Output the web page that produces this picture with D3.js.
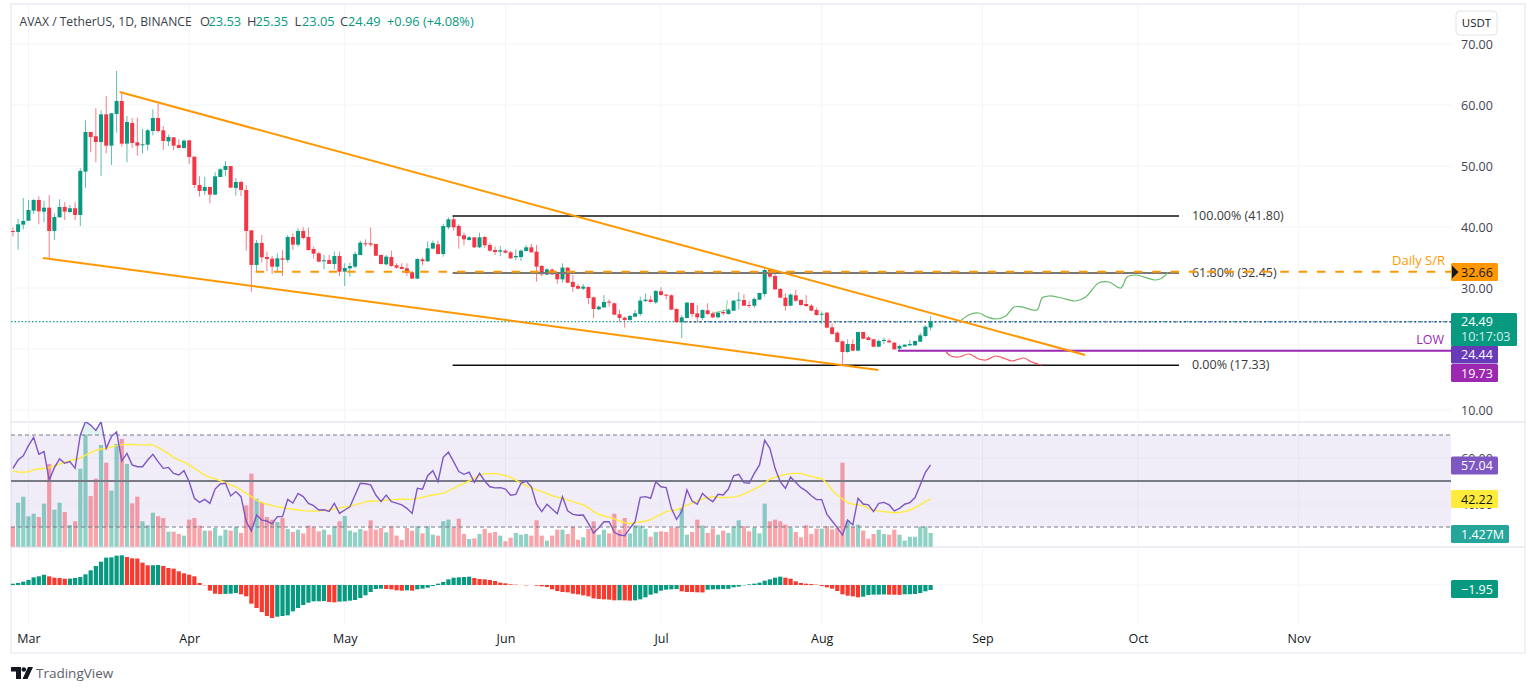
<!DOCTYPE html>
<html>
<head>
<title>AVAX / TetherUS, 1D, BINANCE</title>
<script src="https://d3js.org/d3.v7.min.js"></script>
<style>
    body { margin: 0; background: #fff; }
    text { font-family: "Open Sans", sans-serif; }
</style>
</head>
<body>
<div id="chart"></div>
<script>
// daily candles, 27 Feb to 22 Aug, index 0 = first candle
const opens = [39.35,39.19,40.39,41.04,42.68,44.43,42.52,43.17,39.35,41.59,
43.28,42.46,43.07,41.97,49.08,55.58,54.87,53.94,58.47,53.34,
58.53,60.66,53.67,57.05,53.88,53.45,53.50,55.74,57.87,55.85,
54.05,54.70,53.45,52.96,54.21,51.53,46.89,45.91,46.56,45.31,
48.20,49.35,50.00,46.40,47.38,46.07,39.46,33.78,37.38,35.09,
34.81,33.50,34.87,34.60,38.36,37.11,39.35,38.36,36.40,35.69,
34.43,34.60,33.94,35.25,32.68,33.23,33.50,35.41,37.33,37.33,
37.22,35.41,33.88,35.09,33.72,33.45,33.23,32.57,31.54,34.70,
34.38,36.45,37.16,35.58,39.95,41.26,40.17,38.64,37.87,38.31,
36.67,38.36,37.05,36.23,35.96,36.12,35.85,35.03,35.08,36.07,
36.67,35.96,33.61,32.19,33.01,32.30,31.42,33.34,30.99,30.33,
29.89,30.17,28.47,26.51,26.83,27.76,27.49,25.69,25.14,24.76,
25.30,25.74,27.87,28.09,27.65,29.46,28.91,28.80,26.56,24.38,
25.09,27.54,25.85,25.08,26.34,25.85,25.19,26.07,25.74,26.28,
27.92,28.03,27.21,27.10,28.09,29.02,32.95,31.97,29.84,28.42,
27.10,28.80,28.03,27.38,27.10,26.39,25.68,25.96,23.55,22.68,
21.26,19.51,20.82,19.73,22.79,21.91,21.59,20.38,21.31,21.37,
21.04,20.06,20.38,20.60,20.60,21.20,22.13,23.53];
const highs = [39.95,41.37,44.76,44.43,44.60,45.03,44.32,45.25,42.24,44.54,
44.05,43.61,44.05,49.62,57.49,55.58,59.46,59.13,61.48,58.64,
65.58,62.08,58.20,57.87,57.93,56.07,56.07,59.29,60.17,56.56,
55.14,54.70,54.38,54.38,54.21,51.53,48.31,48.20,46.56,48.97,
49.62,50.82,50.00,48.04,47.60,46.89,39.46,37.87,38.69,35.96,
35.25,35.69,36.23,38.69,38.97,39.79,39.95,39.90,36.78,35.96,
35.41,35.41,35.96,35.96,34.05,34.16,35.96,37.77,37.98,39.90,
37.22,35.52,35.41,36.12,34.05,34.05,34.05,32.79,34.87,35.03,
37.65,37.77,37.77,40.50,41.59,41.81,40.50,39.08,38.53,38.31,
39.08,38.53,37.43,36.78,36.89,36.34,36.12,36.34,36.34,37.05,
37.22,37.05,33.77,33.23,33.23,32.57,34.05,33.39,32.13,30.66,
30.66,30.22,28.58,27.16,28.86,28.14,27.60,26.40,25.30,25.58,
26.40,28.58,29.13,28.75,29.67,30.11,29.02,28.96,26.67,25.58,
27.71,27.60,27.21,26.50,27.49,26.12,26.12,26.39,26.67,28.03,
29.29,29.02,27.92,28.47,29.24,33.17,33.12,32.68,30.00,29.13,
29.13,29.67,28.14,28.85,27.38,26.78,26.12,26.07,24.21,22.90,
21.37,21.59,21.59,22.79,22.79,22.13,21.70,21.59,21.91,21.70,
21.15,20.71,20.77,21.48,21.37,22.68,23.88,25.35];
const lows = [38.42,36.29,39.62,41.04,42.14,40.44,40.77,34.87,37.87,41.59,
41.15,42.25,41.15,40.17,46.40,52.25,50.60,48.37,52.08,50.17,
55.47,53.17,50.60,52.96,51.70,52.08,52.52,55.03,55.47,52.63,
53.28,52.63,52.96,52.85,50.33,46.40,44.98,45.25,43.88,45.20,
48.20,48.31,46.40,45.14,45.09,36.13,29.35,32.57,34.16,32.79,
32.30,32.79,31.97,34.16,36.23,36.78,37.98,36.12,34.81,34.21,
33.06,33.94,33.06,31.97,30.33,31.86,33.23,35.36,36.78,36.78,
35.25,33.83,33.72,33.50,33.17,33.06,31.97,31.54,31.43,33.72,
34.27,36.34,35.52,35.14,39.62,39.40,36.45,37.00,37.77,36.56,
36.56,36.56,35.96,35.41,35.25,35.69,34.76,34.59,34.43,35.96,
35.79,31.04,31.97,32.08,32.13,30.66,30.88,30.77,29.35,29.78,
29.67,27.38,25.03,26.40,26.72,26.94,25.52,24.38,23.50,24.65,
25.19,25.41,27.71,27.60,27.38,28.75,28.14,26.40,24.32,21.81,
24.98,25.19,24.48,24.76,25.63,25.03,25.03,25.57,25.63,26.23,
26.50,27.05,26.72,26.78,28.03,28.58,31.64,29.67,28.31,26.28,
26.99,27.70,27.10,26.94,26.18,25.47,24.10,23.39,22.35,21.04,
17.33,19.40,19.62,19.62,21.59,21.37,20.27,20.27,20.82,20.93,
19.84,19.84,20.33,20.49,20.49,21.15,22.02,23.05];
const closes = [39.19,40.44,40.99,42.79,44.43,42.57,43.17,39.35,41.64,43.28,
42.52,43.07,41.97,49.19,55.58,54.76,53.94,58.47,53.34,58.64,
60.66,53.67,57.22,53.77,53.34,53.56,55.85,57.87,55.74,54.10,
54.76,53.34,52.96,54.16,51.48,46.89,45.91,46.56,45.31,48.31,
49.46,50.00,46.45,47.38,46.07,39.35,33.78,37.38,35.03,34.76,
33.50,34.87,34.65,38.36,37.11,39.35,38.20,36.23,35.63,34.32,
34.54,33.94,35.25,32.68,33.28,33.61,35.58,37.44,37.22,37.11,
35.30,33.94,35.14,33.61,33.34,33.12,32.46,31.54,34.76,34.38,
36.51,37.38,35.58,40.17,41.26,39.95,38.53,37.98,38.31,36.67,
38.31,37.00,36.12,35.90,36.18,35.79,34.87,35.25,36.12,36.67,
35.85,33.50,32.24,33.06,32.24,31.42,33.34,30.88,30.17,29.89,
30.22,28.36,26.56,26.94,27.71,27.60,25.63,25.09,24.76,25.41,
25.85,27.93,28.09,27.71,29.51,28.86,28.75,26.45,24.38,25.19,
27.60,25.74,25.19,26.39,25.74,25.19,25.96,25.85,26.45,27.92,
28.09,27.10,27.10,28.20,29.18,32.95,31.86,29.78,28.42,27.05,
28.91,27.92,27.21,27.05,26.28,25.57,25.79,23.50,22.46,21.15,
19.51,20.82,19.73,22.79,21.69,21.48,20.38,21.31,21.48,21.09,
19.95,20.49,20.71,20.82,21.31,22.24,23.66,24.49];
// volume in millions
const volumes = [2.04,4.52,5.13,3.13,3.40,3.06,4.42,8.47,3.81,4.52,
3.57,2.24,2.62,7.99,11.46,5.20,6.97,10.40,8.60,5.75,
10.51,11.02,8.47,4.45,5.13,2.62,2.21,3.50,3.13,2.96,
1.56,1.56,1.33,1.16,2.79,2.96,2.18,1.67,1.67,1.94,
1.16,1.77,1.67,2.04,1.43,4.25,7.48,4.93,4.56,3.06,
2.79,2.55,2.96,1.84,1.53,1.77,1.39,2.18,2.01,1.60,
1.77,1.26,2.11,2.62,3.16,1.67,1.50,1.84,1.67,2.72,
1.77,1.94,1.50,2.11,1.16,0.71,1.94,1.67,2.11,1.39,
2.11,1.26,1.16,2.62,2.79,2.01,2.89,1.33,0.82,0.88,
1.33,1.84,1.43,1.53,1.16,0.58,0.95,1.43,1.26,1.33,
1.16,2.72,1.16,0.65,1.16,1.77,1.77,1.33,2.07,0.75,
0.99,1.84,2.62,1.26,1.77,1.39,3.40,1.77,2.96,1.39,
2.21,2.18,1.87,1.05,1.53,1.60,1.53,1.94,2.04,3.98,
1.26,1.53,2.79,2.18,1.43,1.90,1.26,1.67,1.43,2.07,
2.72,2.11,1.60,2.01,1.39,4.42,2.62,2.79,2.62,2.28,
2.01,1.53,0.99,2.21,1.33,1.87,1.87,2.11,1.80,1.94,
8.60,2.69,2.04,2.28,1.67,0.85,1.33,1.77,1.33,1.26,
1.77,1.26,0.65,1.05,1.05,2.07,2.07,1.427];
const rsi = [55.5,59.1,61.0,65.4,69.0,61.6,62.8,50.4,55.8,59.6,
57.7,58.4,55.5,70.0,75.8,74.3,72.0,75.8,64.2,69.3,
71.4,58.7,62.0,57.0,56.2,56.2,59.1,61.6,58.4,55.5,
55.9,53.3,52.6,54.5,49.7,42.5,40.7,42.0,40.3,46.5,
48.7,49.0,43.5,45.4,43.2,32.3,28.3,35.2,33.0,32.6,
31.4,34.5,34.5,42.0,40.4,44.6,43.2,40.3,39.3,37.4,
37.5,36.8,40.3,35.9,37.4,38.8,43.9,49.0,48.8,48.3,
43.9,41.0,43.9,41.0,40.4,39.6,38.1,35.9,46.8,46.4,
52.3,54.5,49.7,60.3,62.5,58.4,54.1,52.9,53.8,49.4,
53.3,50.0,47.5,47.0,47.1,46.5,43.8,44.2,49.0,50.0,
47.5,39.9,36.7,39.9,37.8,35.8,43.2,37.0,35.5,35.1,
35.2,31.6,27.4,29.7,32.3,32.3,27.7,26.5,26.2,29.4,
32.3,42.9,43.2,42.5,49.7,47.5,47.1,38.1,33.3,36.7,
46.1,41.3,39.9,44.6,42.5,41.0,44.2,43.9,46.5,52.3,
52.9,49.3,49.0,53.3,57.0,67.7,64.2,55.5,49.7,46.8,
51.7,49.3,47.1,45.7,43.6,41.9,41.9,35.5,32.6,29.7,
26.5,33.0,30.9,42.5,40.0,39.6,36.7,40.3,40.7,39.6,
37.0,38.1,39.9,40.6,42.8,48.3,53.8,57.04];
const rsiMa = [54.3,53.9,53.8,54.1,54.9,55.2,55.5,55.8,56.5,57.4,58.1,58.8,59.4,59.9,
61.2,62.3,63.3,63.9,64.2,64.8,65.4,65.8,65.9,65.9,65.7,65.7,65.7,65.7,
64.6,63.2,61.9,60.3,59.1,58.3,57,55.5,54.1,52.6,51.6,50.9,50.1,49.3,48.3,47.4,46.1,44.6,43.2,41.7,
40.6,39.9,39.3,38.8,38.4,38,37.7,37.4,37.1,37,36.8,37,37.2,37.4,37.8,38.3,38.7,39,39.6,40.3,41,41.2,
41.3,41.4,41.7,41.9,42,42.2,42,42,42.5,42.9,43.5,43.9,44.3,44.6,45.7,46.8,48,49,50,51.2,52.3,53.2,53.2,53.3,52.9,
52.3,51.7,50.4,49,48,47.1,46.1,45.4,44.5,43.6,43,42.5,41.7,41,40.4,39.6,38.4,36.7,35.5,34.8,
34.2,33.5,32.6,31.9,31.4,31.9,32.2,32.6,33.2,34.5,35.5,36.7,37.1,37.4,38.4,39.6,40.3,41.3,42.2,42.8,
43.2,42.9,42.8,42.8,43,43.5,44.3,45.4,46.5,47.5,49,50.9,51.6,52.3,52.9,53.2,53.3,53.3,52.6,52,
51.4,51,49,46.1,43.9,42.2,40.7,39.9,39.6,39.3,38.1,37.4,37,36.7,36.4,36.2,36.4,36.7,37.4,38.4,39.6,41,42.22];
const histogram = [.5,.8,1.3,2.0,3.0,3.4,4.0,3.39,2.86,2.73,2.45,
2.5,2.73,3.13,4.17,5.73,7.42,9.11,10.68,10.81,11.46,11.59,
10.94,10.42,10.35,8.72,7.7,7.72,7.8,7.42,6.64,6.38,
5.34,4.56,4.04,3.39,.78,-.1,-2.2,-3.39,-3.52,-3.5,
-3.39,-3.13,-3.65,-4.43,-7.29,-8.98,-10.55,-12.11,-12.89,
-12.37,-12.11,-11.85,-10.29,-8.98,-7.81,-6.9,-6.38,-6.36,-6.25,
-6.64,-6.77,-6.51,-6.38,-6.12,-5.86,-5.08,-4.04,-2.73,-1.56,
-1.43,-1.56,-1.69,-2.08,-2.21,-2.08,-2.21,-1.69,-1.43,-1.04,
-.39,.52,1.17,2.21,2.86,3.0,3.13,3.26,2.73,2.34,
2.21,1.95,1.56,.91,.65,.26,.13,.02,-.13,0,
-.26,-.52,-.78,-1.69,-2.34,-2.73,-2.86,-3.39,-3.65,-4.04,
-4.43,-5.21,-5.47,-5.6,-5.73,-5.99,-5.95,-6.0,-6.1,-5.99,
-5.6,-4.82,-3.78,-3.26,-2.21,-1.82,-1.69,-1.6,-2.47,-2.73,
-2.75,-2.86,-2.9,-1.82,-1.69,-1.66,-1.56,-1.5,-.91,-.65,
-.13,.26,.52,.91,1.69,2.21,2.86,3.26,2.86,2.47,
1.43,.78,.52,.39,.13,-.39,-.91,-1.43,-2.34,-3.65,
-4.17,-4.43,-4.82,-4.56,-3.91,-3.78,-3.75,-3.7,-3.78,-3.8,
-3.85,-3.65,-3.6,-3.52,-3.13,-2.47,-1.95];

const priceTicks = [70, 60, 50, 40, 30, 20, 10];
const rsiTicks = [60, 40];
const monthDays = [3, 34, 64, 95, 125, 156, 187, 217, 248];
const monthLabels = ["Mar", "Apr", "May", "Jun", "Jul", "Aug", "Sep", "Oct", "Nov"];

// drawn lines: day index and price at each end
const wedgeTopDays = [20.6, 206.8], wedgeTopPrices = [62.13, 19.02];
const wedgeLowDays = [5.8, 166.9], wedgeLowPrices = [34.92, 16.56];
const fibLevels = [41.80, 32.45, 17.33];
const fibLabels = ["100.00% (41.80)", "61.80% (32.45)", "0.00% (17.33)"];
const fibDays = [84.8, 224.9];
const supportPrice = 32.66, supportStartDay = 46.8;
const lowPrice = 19.73, lowStartDay = 170.7;
const lastClose = 24.49, prevLine = 24.44, prevLineStartDay = 129.5;

const upPathDays = [182.9,184.8,186.3,187.9,189.6,191.5,193.1,194.6,197.5,198.5,199.8,202.3,205.0,206.9,209.4,211.4,213.7,214.9,216.6,220.4,221.6,222.8];
const upPathPrices = [24.75,25.74,25.90,25.25,24.92,25.41,26.89,26.89,26.39,28.36,28.69,28.36,27.87,28.52,30.82,30.98,30.0,31.80,32.13,31.31,31.64,32.62];
const downPathDays = [180.0,180.9,182.5,184.4,186.3,187.7,189.6,191.5,192.7,195,196.5,198.5];
const downPathPrices = [19.51,18.85,18.69,19.18,18.36,18.2,18.85,18.36,18.03,18.52,17.87,17.38];
const strayDays = [135.1,136.6,137.6,137.8], strayPrices = [25.9,26.2,26.4,28.0];

const width = 1536, height = 691;
const paneLeft = 11, paneRight = 1451, frameRight = 1525, frameTop = 4, frameBottom = 653;
const priceBottom = 422, rsiBottom = 547, timeTop = 624;
const days = d3.range(opens.length);

const green = "#089981", red = "#f23645", orange = "#ff9800", gridColor = "#f3f4f8", textColor = "#3f4350";

const x = d3.scaleLinear().domain([0, 177]).range([12.9, 930.6]);
const yPrice = d3.scaleLinear().domain([0, 70]).range([471, 44]);
const yRsi = d3.scaleLinear().domain([30, 70]).range([527, 435]);
const yVol = d3.scaleLinear().domain([0, 10.2]).range([547, 447]);
const yHist = d3.scaleLinear().domain([-20, 20]).range([636.2, 533.8]);

const svg = d3.select("#chart").append("svg")
    .attr("width", width).attr("height", height)
    .style("display", "block");

// frame and pane dividers
svg.append("rect").attr("x", paneLeft).attr("y", frameTop)
    .attr("width", frameRight - paneLeft).attr("height", frameBottom - frameTop)
    .attr("fill", "#fff").attr("stroke", "#eff1f7").attr("stroke-width", 2);
[priceBottom, rsiBottom].forEach(function(y) {
    svg.append("line").attr("x1", paneLeft).attr("x2", frameRight).attr("y1", y).attr("y2", y)
        .attr("stroke", "#e6e8ef").attr("stroke-width", 1.5);
});

// grid
svg.append("g").selectAll("line").data(monthDays).join("line")
    .attr("x1", d => x(d)).attr("x2", d => x(d))
    .attr("y1", frameTop + 1).attr("y2", timeTop)
    .attr("stroke", gridColor);
svg.append("g").selectAll("line").data(priceTicks).join("line")
    .attr("x1", paneLeft).attr("x2", paneRight)
    .attr("y1", d => yPrice(d)).attr("y2", d => yPrice(d))
    .attr("stroke", gridColor);

// rsi band goes under everything in its pane
svg.append("rect").attr("x", paneLeft).attr("width", paneRight - paneLeft)
    .attr("y", yRsi(70)).attr("height", yRsi(30) - yRsi(70))
    .attr("fill", "#7e57c2").attr("fill-opacity", 0.11);
svg.append("g").selectAll("line").data(rsiTicks).join("line")
    .attr("x1", paneLeft).attr("x2", paneRight)
    .attr("y1", d => yRsi(d)).attr("y2", d => yRsi(d))
    .attr("stroke", "#e9e6f3");
svg.append("line").attr("x1", paneLeft).attr("x2", paneRight)
    .attr("y1", yHist(0)).attr("y2", yHist(0)).attr("stroke", gridColor);

// volume
svg.append("g").selectAll("rect").data(days).join("rect")
    .attr("x", d => x(d) - 2.1).attr("width", 4.2)
    .attr("y", d => yVol(volumes[d]))
    .attr("height", d => yVol(0) - yVol(volumes[d]))
    .attr("fill", d => closes[d] >= opens[d] ? green : red)
    .attr("fill-opacity", 0.45);
svg.append("line").attr("x1", paneLeft).attr("x2", x(177) + 3)
    .attr("y1", rsiBottom).attr("y2", rsiBottom).attr("stroke", "#dfe2ec");

// rsi levels
[70, 30].forEach(function(level) {
    svg.append("line").attr("x1", paneLeft).attr("x2", paneRight)
        .attr("y1", yRsi(level)).attr("y2", yRsi(level))
        .attr("stroke", "#787b86").attr("stroke-dasharray", "4 3");
});
svg.append("line").attr("x1", paneLeft).attr("x2", paneRight)
    .attr("y1", yRsi(50)).attr("y2", yRsi(50))
    .attr("stroke", "#787b86").attr("stroke-width", 1.8);

// rsi and its average, clipped to the pane
svg.append("clipPath").attr("id", "rsiClip").append("rect")
    .attr("x", paneLeft).attr("y", priceBottom)
    .attr("width", paneRight - paneLeft).attr("height", rsiBottom - priceBottom);
svg.append("clipPath").attr("id", "overClip").append("rect")
    .attr("x", paneLeft).attr("y", priceBottom)
    .attr("width", paneRight - paneLeft).attr("height", yRsi(70) - priceBottom);
svg.append("path").datum(days)
    .attr("clip-path", "url(#overClip)")
    .attr("fill", green).attr("fill-opacity", 0.12)
    .attr("d", d3.area().x(d => x(d)).y0(yRsi(70)).y1(d => yRsi(rsi[d])));
svg.append("path").datum(days)
    .attr("clip-path", "url(#rsiClip)")
    .attr("fill", "none").attr("stroke", "#ffeb3b").attr("stroke-width", 1.4)
    .attr("d", d3.line().x(d => x(d)).y(d => yRsi(rsiMa[d])));
svg.append("path").datum(days)
    .attr("clip-path", "url(#rsiClip)")
    .attr("fill", "none").attr("stroke", "#7e57c2").attr("stroke-width", 1.4)
    .attr("d", d3.line().x(d => x(d)).y(d => yRsi(rsi[d])));

// histogram, coloured by the change from the day before
svg.append("g").selectAll("rect").data(days).join("rect")
    .attr("x", d => x(d) - 2.1).attr("width", 4.2)
    .attr("y", d => Math.min(yHist(0), yHist(histogram[d])))
    .attr("height", d => Math.abs(yHist(histogram[d]) - yHist(0)))
    .attr("fill", d => d === 0 || histogram[d] >= histogram[d - 1] ? green : "#f7392e");

// last price lines
svg.append("line").attr("x1", paneLeft).attr("x2", paneRight)
    .attr("y1", yPrice(lastClose)).attr("y2", yPrice(lastClose))
    .attr("stroke", "#1fa08c").attr("stroke-width", 1.2).attr("stroke-dasharray", "1.5 2");
svg.append("line").attr("x1", x(prevLineStartDay)).attr("x2", paneRight)
    .attr("y1", yPrice(prevLine)).attr("y2", yPrice(prevLine))
    .attr("stroke", "#30308f").attr("stroke-width", 1.2).attr("stroke-dasharray", "2 3");

// candles
const candleColor = d => closes[d] >= opens[d] ? green : red;
svg.append("g").selectAll("line").data(days).join("line")
    .attr("x1", d => x(d)).attr("x2", d => x(d))
    .attr("y1", d => yPrice(highs[d])).attr("y2", d => yPrice(lows[d]))
    .attr("stroke", candleColor).attr("stroke-opacity", 0.65);
svg.append("g").selectAll("rect").data(days).join("rect")
    .attr("x", d => x(d) - 2).attr("width", 4)
    .attr("y", d => yPrice(Math.max(opens[d], closes[d])))
    .attr("height", d => Math.max(1, Math.abs(yPrice(opens[d]) - yPrice(closes[d]))))
    .attr("fill", candleColor);

// fib levels
const fibs = svg.append("g");
fibLevels.forEach(function(level, i) {
    fibs.append("line").attr("x1", x(fibDays[0])).attr("x2", x(fibDays[1]))
        .attr("y1", yPrice(level)).attr("y2", yPrice(level))
        .attr("stroke", i === 1 ? "#787878" : "#111")
        .attr("stroke-width", i === 1 ? 2 : 1.5);
    fibs.append("text").attr("x", x(fibDays[1]) + 13).attr("y", yPrice(level) + 4)
        .attr("font-size", 12.5).attr("fill", "#3a3a3a").text(fibLabels[i]);
});

// support and low lines
svg.append("line").attr("x1", x(supportStartDay)).attr("x2", paneRight)
    .attr("y1", yPrice(supportPrice)).attr("y2", yPrice(supportPrice))
    .attr("stroke", orange).attr("stroke-width", 2).attr("stroke-dasharray", "8.5 9.8");
svg.append("line").attr("x1", x(lowStartDay)).attr("x2", paneRight)
    .attr("y1", yPrice(lowPrice)).attr("y2", yPrice(lowPrice))
    .attr("stroke", "#9c27b0").attr("stroke-width", 2);

// wedge
const priceLine = d3.line().x(d => x(d[0])).y(d => yPrice(d[1]));
svg.append("path").attr("d", priceLine(d3.zip(wedgeTopDays, wedgeTopPrices)))
    .attr("fill", "none").attr("stroke", orange).attr("stroke-width", 2);
svg.append("path").attr("d", priceLine(d3.zip(wedgeLowDays, wedgeLowPrices)))
    .attr("fill", "none").attr("stroke", orange).attr("stroke-width", 2);

// hand drawn forecast paths
const curvePath = d3.line().x(d => x(d[0])).y(d => yPrice(d[1])).curve(d3.curveCatmullRom);
svg.append("path").attr("d", curvePath(d3.zip(upPathDays, upPathPrices)))
    .attr("fill", "none").attr("stroke", "#66bb6a").attr("stroke-width", 1.2);
svg.append("path").attr("d", curvePath(d3.zip(downPathDays, downPathPrices)))
    .attr("fill", "none").attr("stroke", "#f7525f").attr("stroke-width", 1.2);
svg.append("path").attr("d", priceLine(d3.zip(strayDays, strayPrices)))
    .attr("fill", "none").attr("stroke", "#66bb6a").attr("stroke-opacity", 0.7);

svg.append("text").attr("x", 1445).attr("y", 265).attr("text-anchor", "end")
    .attr("font-size", 13).attr("fill", orange).text("Daily S/R");
svg.append("text").attr("x", 1444).attr("y", 344).attr("text-anchor", "end")
    .attr("font-size", 12.5).attr("fill", "#9c27b0").text("LOW");

// axes
const axisStyle = function(g) {
    g.select(".domain").remove();
    g.selectAll(".tick line").remove();
    g.selectAll("text").attr("font-size", 12.5).attr("fill", textColor)
        .style("font-family", '"Open Sans", sans-serif');
};
svg.append("g").attr("transform", `translate(${paneRight},0)`)
    .call(d3.axisRight(yPrice).tickValues(priceTicks).tickSize(0).tickPadding(10).tickFormat(d3.format(".2f")))
    .call(axisStyle);
svg.append("g").attr("transform", `translate(${paneRight},0)`)
    .call(d3.axisRight(yRsi).tickValues(rsiTicks).tickSize(0).tickPadding(10).tickFormat(d3.format(".2f")))
    .call(axisStyle);
svg.append("g").attr("transform", `translate(${paneRight},0)`)
    .call(d3.axisRight(yHist).tickValues([0]).tickSize(0).tickPadding(10).tickFormat(d3.format(".2f")))
    .call(axisStyle);
svg.append("g").attr("transform", "translate(0,634)")
    .call(d3.axisBottom(x).tickValues(monthDays).tickSize(0).tickPadding(0).tickFormat((d, i) => monthLabels[i]))
    .call(axisStyle)
    .call(g => g.selectAll("text").attr("fill", "#131722").attr("dy", "0.71em"));

// price tags on the axis
const tagTexts = ["32.66", "24.44", "19.73", "57.04", "42.22", "1.427M", "\u22121.95"];
const tagFills = [orange, "#673ab7", "#9c27b0", "#7e57c2", "#ffeb3b", "#26a69a", green];
const tagInk = ["#131722", "#fff", "#fff", "#fff", "#131722", "#fff", "#fff"];
const tagMiddles = [272, 354.5, 373, 465.5, 499, 534, 589];
const tagWidths = [47, 47, 47, 47, 47, 58, 47];
tagTexts.forEach(function(t, i) {
    svg.append("rect").attr("x", paneRight).attr("y", tagMiddles[i] - 9)
        .attr("width", tagWidths[i]).attr("height", 18).attr("rx", 1.5)
        .attr("fill", tagFills[i]);
    svg.append("text").attr("x", paneRight + 10).attr("y", tagMiddles[i] + 4.5)
        .attr("font-size", 12.5).attr("fill", tagInk[i]).text(t);
});
svg.append("path").attr("d", `M${paneRight + 1},265.5 l6.5,6.5 l-6.5,6.5 z`).attr("fill", "#131722");
svg.append("rect").attr("x", paneRight).attr("y", 313)
    .attr("width", 66).attr("height", 33).attr("rx", 1.5).attr("fill", green);
svg.append("text").attr("x", paneRight + 10).attr("y", 326)
    .attr("font-size", 12.5).attr("fill", "#fff").text("24.49");
svg.append("text").attr("x", paneRight + 10).attr("y", 341)
    .attr("font-size", 12.5).attr("fill", "#d4efe9").text("10:17:03");

// currency button
svg.append("rect").attr("x", 1456).attr("y", 11).attr("width", 41).attr("height", 24).attr("rx", 4)
    .attr("fill", "#fff").attr("stroke", "#e0e3eb");
svg.append("text").attr("x", 1476.5).attr("y", 27).attr("text-anchor", "middle")
    .attr("font-size", 11.5).attr("fill", "#131722").text("USDT");

// header
const headerTexts = ["AVAX / TetherUS, 1D, BINANCE", "O", "23.53", "H", "25.35", "L", "23.05", "C", "24.49", "+0.96 (+4.08%)"];
const headerLefts = [19.5, 200, 208.5, 247, 255.5, 294.5, 302, 340, 348, 387];
headerTexts.forEach(function(t, i) {
    const isValue = i > 0 && (i % 2 === 0 || i === 9);
    svg.append("text").attr("x", headerLefts[i]).attr("y", 25.5)
        .attr("font-size", i === 0 ? 12.1 : 12.8)
        .attr("fill", isValue ? green : "#3a3e4a").text(t);
});

// logo
svg.append("path").attr("fill", "#131722")
    .attr("d", "M11,667 h10 v12 h-5 v-7.5 h-5 z M28,667 h5 l-5.5,12 h-5 z")
svg.append("circle").attr("cx", 23.8).attr("cy", 669.5).attr("r", 2.3).attr("fill", "#131722");
svg.append("text").attr("x", 36).attr("y", 678).attr("font-size", 13.5).attr("fill", "#5a5e69").text("TradingView");
</script>
</body>
</html>
